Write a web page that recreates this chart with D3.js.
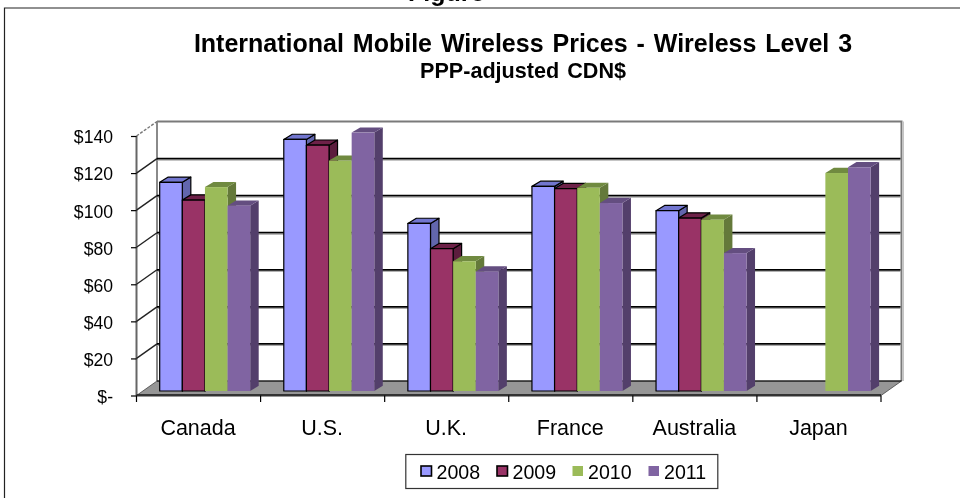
<!DOCTYPE html>
<html><head><meta charset="utf-8">
<script src="https://cdnjs.cloudflare.com/ajax/libs/d3/7.8.5/d3.min.js"></script>
<style>html,body{margin:0;padding:0;background:#fff;overflow:hidden}svg{display:block;filter:blur(.35px)}text{font-family:"Liberation Sans",Arial,sans-serif;fill:#000}</style>
</head><body>
<svg id="c" width="960" height="498"></svg>
<script>
const categories = ["Canada","U.S.","U.K.","France","Australia","Japan"];
const years = ["2008","2009","2010","2011"];
const v2008 = [112.6,135.7,90.4,110.4,97.3,null];
const v2009 = [103,132.6,76.8,109.2,93.3,null];
const v2010 = [110,124.3,70,109.6,92.4,117.6];
const v2011 = [100,139.4,64.5,101.4,74.4,120.7];
const yTicks = [0,20,40,60,80,100,120,140];
const fillColors = ["#9999FF","#993366","#9BBB59","#8064A2"];
const topColors = ["#7276cf","#6d2148","#708a40","#644e80"];
const sideColors = ["#6266ad","#5c1c3d","#64793a","#533f6b"];
const strokes = ["#000","#000","none","none"];
const series = [v2008,v2009,v2010,v2011];

const svg = d3.select("#c");
const left=136.5,right=881,base=395.5,top140=136;
const wallDx=20.5,wallDy=-14.5;
const x = d3.scaleBand().domain(categories).range([left,right]);
const y = d3.scaleLinear().domain([0,140]).range([base,top140]);
const inner = d3.scaleBand().domain(years).range([0,90.5]);
const barDx=8.5,barDy=-5.2,barShiftY=-4.5,barPad=23.2;

// page frame and clipped caption
svg.append("path").attr("d","M4.5 498V8H960").attr("fill","none").attr("stroke","#222").attr("stroke-width",1.2);
svg.append("text").attr("x",408).attr("y",.5).attr("font-size",25).attr("font-weight","bold").text("Figure");

// titles
svg.append("text").attr("x",523).attr("y",52).attr("text-anchor","middle").attr("font-size",25).attr("font-weight","bold").attr("word-spacing",2).text("International Mobile Wireless Prices - Wireless Level 3");
svg.append("text").attr("x",523).attr("y",78).attr("text-anchor","middle").attr("font-size",21.6).attr("font-weight","bold").attr("word-spacing",2).text("PPP-adjusted CDN$");

// walls
const g = svg.append("g");
g.append("path").attr("d",`M${left+wallDx} ${y(140)+wallDy}H${right+wallDx}V${base+wallDy}`).attr("fill","none").attr("stroke","#7a7a7a").attr("stroke-width",2);
g.append("line").attr("x1",right+wallDx+1.5).attr("x2",right+wallDx+1.5).attr("y1",y(140)+wallDy).attr("y2",base+wallDy).attr("stroke","#c4c4c4").attr("stroke-width",2);
g.append("line").attr("x1",left+wallDx).attr("x2",left+wallDx).attr("y1",y(140)+wallDy).attr("y2",base+wallDy).attr("stroke","#8a8a8a").attr("stroke-width",2);
g.append("line").attr("x1",left).attr("x2",left).attr("y1",y(140)).attr("y2",base).attr("stroke","#666").attr("stroke-width",2);

// gridlines on the walls
yTicks.slice(1).forEach(t=>{
  const yy=y(t);
  if(t<140){
    g.append("line").attr("x1",left+wallDx).attr("x2",right+wallDx-1).attr("y1",yy+wallDy+1.6).attr("y2",yy+wallDy+1.6).attr("stroke","#a8a8a8").attr("stroke-width",1);
    g.append("line").attr("x1",left+wallDx).attr("x2",right+wallDx-1).attr("y1",yy+wallDy).attr("y2",yy+wallDy).attr("stroke","#000").attr("stroke-width",1.8);
  }
  g.append("line").attr("x1",left).attr("x2",left+wallDx).attr("y1",yy).attr("y2",yy+wallDy).attr("stroke",t==140?"#777":"#222").attr("stroke-width",1.4).attr("stroke-dasharray",t==140?"3 1.5":null);
});

// floor
g.append("path").attr("d",`M${left} ${base}L${left+wallDx} ${base+wallDy}H${right+wallDx}L${right} ${base}Z`).attr("fill","#969696").attr("stroke","#444").attr("stroke-width",.8);
g.append("line").attr("x1",left).attr("x2",right).attr("y1",base-.3).attr("y2",base-.3).attr("stroke","#333").attr("stroke-width",2.6);
g.append("line").attr("x1",left+wallDx).attr("x2",right+wallDx).attr("y1",base+wallDy).attr("y2",base+wallDy).attr("stroke","#000").attr("stroke-width",1);

// bars
categories.forEach((c,ci)=>{
  series.forEach((vals,si)=>{
    const v=vals[ci]; if(v==null) return;
    const x0=x(c)+barPad+inner(years[si]), w=inner.bandwidth();
    const y0=base+barShiftY, yt=y(v)+barShiftY;
    const b=svg.append("g").attr("stroke",strokes[si]).attr("stroke-width",1.2).attr("stroke-linejoin","round");
    b.append("path").attr("d",`M${x0+w} ${yt}l${barDx} ${barDy}V${y0+barDy}L${x0+w} ${y0}Z`).attr("fill",sideColors[si]);
    b.append("path").attr("d",`M${x0} ${yt}l${barDx} ${barDy}H${x0+w+barDx}L${x0+w} ${yt}Z`).attr("fill",topColors[si]);
    b.append("rect").attr("x",x0).attr("y",yt).attr("width",w).attr("height",y0-yt).attr("fill",fillColors[si]);
  });
});

// axes
const yAxis=d3.axisLeft(y).tickValues(yTicks).tickSize(5.5).tickPadding(18).tickFormat(d=>d===0?"$-":"$"+d);
const ya=svg.append("g").attr("transform",`translate(${left},0)`).call(yAxis);
ya.select(".domain").remove();
ya.selectAll("text").attr("font-size",17.6).attr("font-family","Liberation Sans").attr("dy","0.39em");
ya.selectAll("line").attr("stroke","#000").attr("stroke-width",1.2);

const xTicks=d3.scaleLinear().domain([0,categories.length]).range([left,right]);
d3.range(categories.length+1).forEach(i=>{
  svg.append("line").attr("x1",xTicks(i)).attr("x2",xTicks(i)).attr("y1",base).attr("y2",base+6.5).attr("stroke","#000").attr("stroke-width",1.2);
});
const labelsX=svg.append("g");
categories.forEach(c=>{
  labelsX.append("text").attr("x",x(c)+x.bandwidth()/2-.5).attr("y",435).attr("text-anchor","middle").attr("font-size",21.5).text(c);
});

// legend
svg.append("rect").attr("x",405.8).attr("y",454.5).attr("width",312).attr("height",34).attr("fill","#fff").attr("stroke","#333").attr("stroke-width",1.2);
const legendX=d3.scaleOrdinal().domain(years).range([421,497,572.5,648.5]);
years.forEach((yr,i)=>{
  const lx=legendX(yr);
  svg.append("rect").attr("x",lx).attr("y",466).attr("width",10.5).attr("height",10).attr("fill",fillColors[i]).attr("stroke",strokes[i]).attr("stroke-width",1.6);
  svg.append("text").attr("x",lx+15.5).attr("y",478.5).attr("font-size",19.6).text(yr);
});
</script>
</body></html>
